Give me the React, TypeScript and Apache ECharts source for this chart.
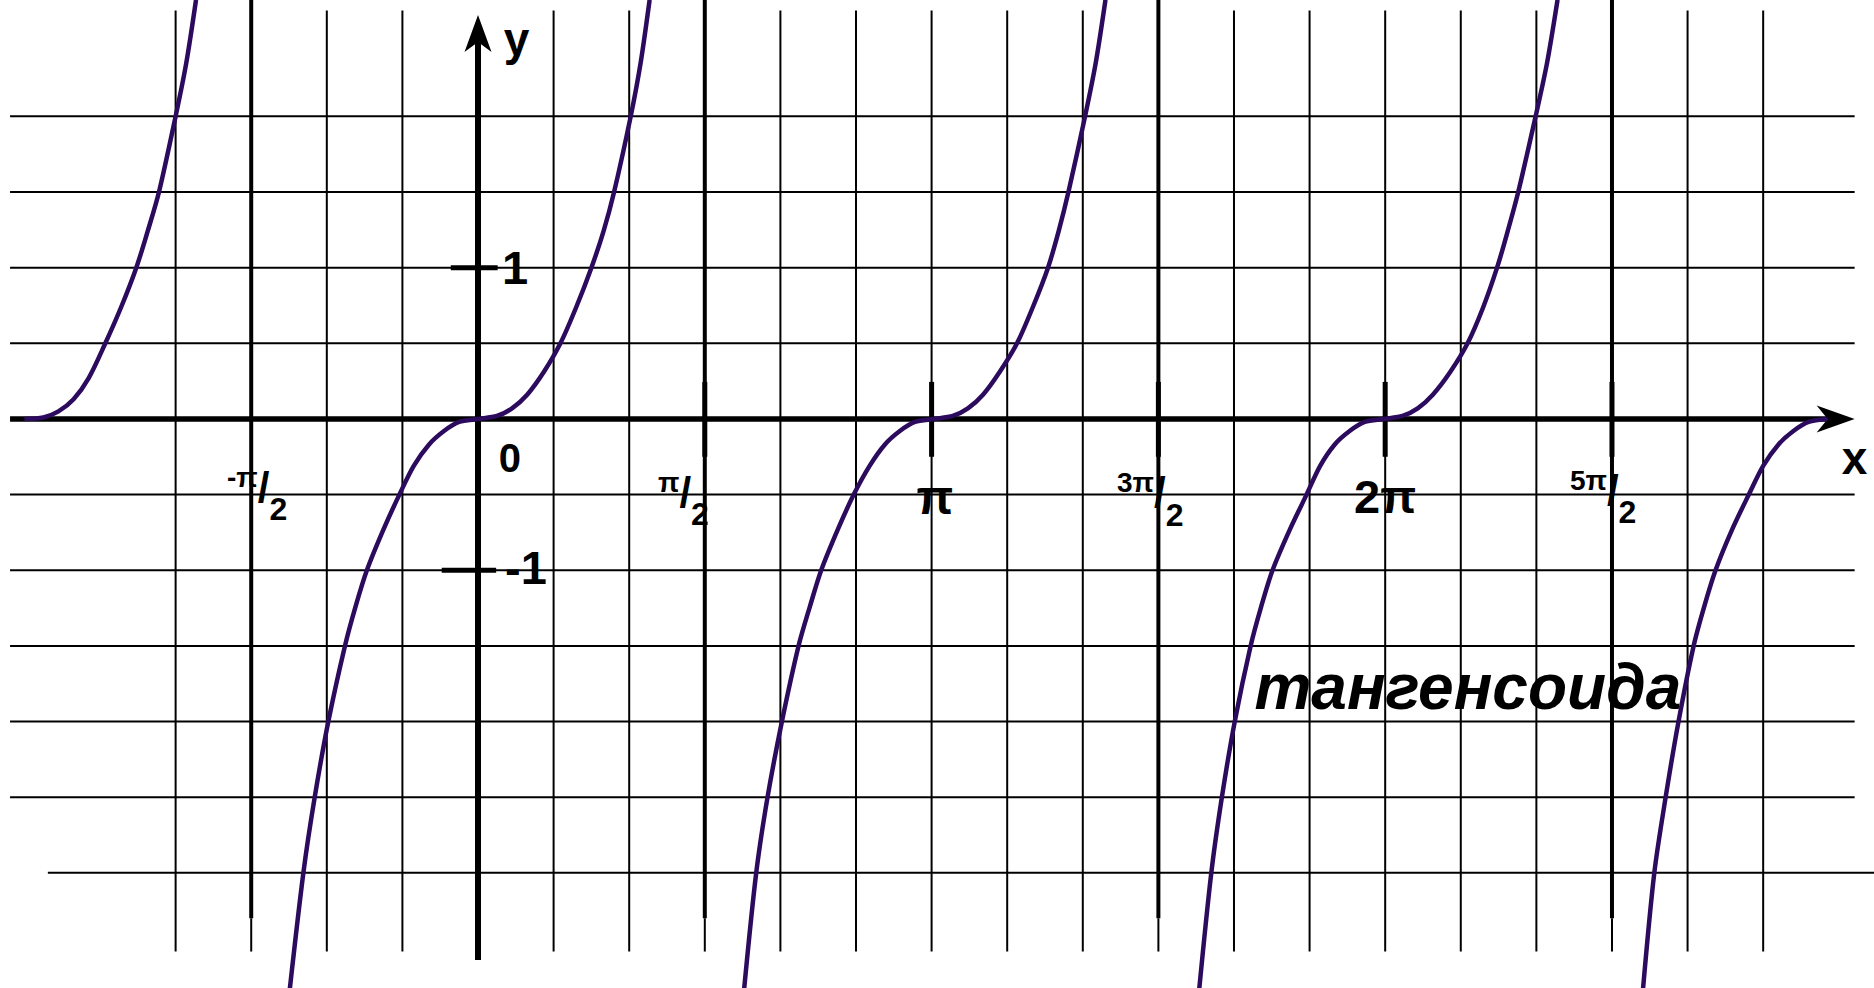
import { useEffect, useRef } from "react";
import * as echarts from "echarts";

const PI = Math.PI;
// one grid step along x is π/6; along y it is 0.5
const STEP = PI / 6;

// visible window: x in π/6 steps, y in units
const X_RANGE = [-6.323, 18.466];
const Y_RANGE = [-3.761, 2.769];

// grid lines (x in π/6 steps, y in units)
const verticalGridSteps = [-4, -2, -1, 1, 2, 4, 5, 6, 7, 8, 10, 11, 12, 13, 14, 16, 17];
const asymptoteSteps = [-3, 3, 9, 15];
const horizontalGridValues = [2, 1.5, 1, 0.5, -0.5, -1, -1.5, -2, -2.5, -3];
const xTickSteps = [3, 6, 9, 12, 15];
const yTickValues = [1, -1];

// curve branches, [x in π/6 steps, y]
const branchAroundMinusPi = [
  [-6.0, 0], [-5.75, 0.01], [-5.55, 0.05], [-5.35, 0.13], [-5.15, 0.27], [-4.93, 0.5], [-4.72, 0.74],
  [-4.52, 1], [-4.37, 1.24], [-4.22, 1.5], [-4.0, 2], [-3.86, 2.35], [-3.73, 2.77],
];
const branchAroundZero = [
  [-2.49, -3.77], [-2.31, -3], [-2.16, -2.5], [-1.98, -2], [-1.76, -1.5], [-1.62, -1.24], [-1.47, -1],
  [-1.25, -0.73], [-1.04, -0.5], [-0.85, -0.31], [-0.65, -0.17], [-0.45, -0.08], [-0.25, -0.02], [0, 0],
  [0.25, 0.02], [0.45, 0.07], [0.65, 0.16], [0.87, 0.31], [1.09, 0.5], [1.3, 0.74], [1.5, 1], [1.66, 1.24],
  [1.8, 1.5], [2.02, 2], [2.15, 2.35], [2.27, 2.77],
];
const branchAroundPi = [
  [3.52, -3.77], [3.68, -3], [3.83, -2.5], [4.02, -2], [4.24, -1.5], [4.39, -1.24], [4.54, -1],
  [4.76, -0.73], [4.97, -0.5], [5.18, -0.31], [5.38, -0.17], [5.58, -0.08], [5.78, -0.02], [6.03, 0],
  [6.28, 0.02], [6.48, 0.07], [6.68, 0.16], [6.9, 0.31], [7.13, 0.5], [7.34, 0.74], [7.54, 1], [7.68, 1.24],
  [7.81, 1.5], [8.03, 2], [8.17, 2.35], [8.3, 2.77],
];
const branchAroundTwoPi = [
  [9.54, -3.77], [9.7, -3], [9.84, -2.5], [10.01, -2], [10.22, -1.5], [10.36, -1.24], [10.51, -1],
  [10.74, -0.73], [10.96, -0.5], [11.14, -0.31], [11.33, -0.17], [11.53, -0.08], [11.73, -0.02], [11.98, 0],
  [12.23, 0.02], [12.43, 0.07], [12.63, 0.16], [12.86, 0.31], [13.09, 0.5], [13.29, 0.73], [13.48, 1],
  [13.62, 1.24], [13.76, 1.5], [13.99, 2], [14.14, 2.35], [14.28, 2.77],
];
const branchAroundThreePi = [
  [15.41, -3.77], [15.56, -3], [15.71, -2.5], [15.88, -2], [16.08, -1.5], [16.22, -1.24], [16.37, -1],
  [16.59, -0.73], [16.81, -0.5], [17.0, -0.31], [17.2, -0.17], [17.4, -0.08], [17.6, -0.02], [17.85, 0],
];
const branches = [
  branchAroundMinusPi,
  branchAroundZero,
  branchAroundPi,
  branchAroundTwoPi,
  branchAroundThreePi,
];

const CURVE_COLOR = "#2c0b5e";
const FONT = "'Liberation Sans', Arial, sans-serif";

function drawDecor(_params: any, api: any) {
  const c = (xs: number, y: number) => api.coord([xs * STEP, y]) as number[];
  const children: any[] = [];
  const seg = (a: number[], b: number[], w: number) =>
    children.push({
      type: "line",
      silent: true,
      shape: { x1: a[0], y1: a[1], x2: b[0], y2: b[1] },
      style: { stroke: "#000", lineWidth: w, lineCap: "butt" },
    });

  // thin grid
  verticalGridSteps.forEach((s) => seg(c(s, 2.7), c(s, -3.52), 2));
  asymptoteSteps.forEach((s) => {
    seg(c(s, Y_RANGE[1]), c(s, -3.3), 4);
    seg(c(s, -3.3), c(s, -3.52), 2);
  });
  horizontalGridValues.forEach((v) => {
    if (v === -3) seg(c(-5.69, v), c(X_RANGE[1], v), 2);
    else seg(c(-6.19, v), c(18.21, v), 2);
  });

  // axes with arrowheads
  const xTip = c(18.21, 0);
  const yTip = c(0, 2.67);
  seg(c(-6.19, 0), [xTip[0] - 27, xTip[1]], 5.5);
  seg(c(0, -3.576), [yTip[0], yTip[1] + 27], 6);
  children.push({
    type: "polygon",
    silent: true,
    shape: {
      points: [xTip, [xTip[0] - 38, xTip[1] - 13.5], [xTip[0] - 27, xTip[1]], [xTip[0] - 38, xTip[1] + 13.5]],
    },
    style: { fill: "#000" },
  });
  children.push({
    type: "polygon",
    silent: true,
    shape: {
      points: [yTip, [yTip[0] + 13.5, yTip[1] + 37], [yTip[0], yTip[1] + 27], [yTip[0] - 13.5, yTip[1] + 37]],
    },
    style: { fill: "#000" },
  });

  // ticks
  xTickSteps.forEach((s) => seg(c(s, 0.245), c(s, -0.25), 5));
  yTickValues.forEach((v) => seg(c(v > 0 ? -0.36 : -0.48, v), c(v > 0 ? 0.26 : 0.24, v), 5));

  const text = (p: number[], t: string, size: number, align: string, extra: any = {}) =>
    children.push({
      type: "text",
      silent: true,
      x: p[0],
      y: p[1],
      style: {
        text: t,
        fill: "#000",
        fontFamily: FONT,
        fontWeight: "bold",
        fontSize: size,
        align,
        verticalAlign: "middle",
        ...extra,
      },
    });

  text(c(0.34, 2.51), "y", 46, "left");
  text(c(18.21, -0.258), "x", 46, "center");
  text(c(0.423, -0.258), "0", 40, "center");
  text(c(0.49, 1.0), "1", 47, "center");
  text(c(0.357, -0.985), "-1", 47, "left");
  text(c(6.045, -0.52), "π", 48, "center");
  text(c(12.0, -0.51), "2π", 47, "center");

  const fracRich = {
    n: { fontSize: 28, fontWeight: "bold", fontFamily: FONT, height: 28, verticalAlign: "top" },
    s: { fontSize: 42, fontWeight: "bold", fontFamily: FONT, height: 48, verticalAlign: "top" },
    d: { fontSize: 32, fontWeight: "bold", fontFamily: FONT, height: 32, lineHeight: 62, verticalAlign: "bottom" },
  };
  const frac = (p: number[], num: string) =>
    children.push({
      type: "text",
      silent: true,
      x: p[0],
      y: p[1],
      style: {
        text: `{n|${num}}{s|/}{d|2}`,
        rich: fracRich,
        fill: "#000",
        align: "left",
        verticalAlign: "top",
      },
    });
  frac(c(-3.32, -0.294), "-π");
  frac(c(2.381, -0.327), "π");
  frac(c(8.452, -0.33), "3π");
  frac(c(14.444, -0.311), "5π");

  text(c(10.27, -1.77), "тангенсоида", 64, "left", { fontStyle: "italic" });

  return { type: "group", children };
}

export default function App() {
  const ref = useRef<HTMLDivElement>(null);

  useEffect(() => {
    if (!ref.current) return;
    const chart = echarts.init(ref.current, null, { renderer: "svg" });
    chart.setOption({
      animation: false,
      grid: { left: 0, right: 0, top: 0, bottom: 0, containLabel: false },
      xAxis: {
        type: "value",
        min: X_RANGE[0] * STEP,
        max: X_RANGE[1] * STEP,
        show: false,
        splitLine: { show: false },
      },
      yAxis: {
        type: "value",
        min: Y_RANGE[0],
        max: Y_RANGE[1],
        show: false,
        splitLine: { show: false },
      },
      series: [
        {
          type: "custom",
          name: "grid",
          z: 2,
          silent: true,
          data: [[0, 0]],
          renderItem: drawDecor,
        },
        ...branches.map((b, i) => ({
          type: "line",
          name: `tg-${i}`,
          z: 5,
          silent: true,
          showSymbol: false,
          symbol: "none",
          smooth: 0.3,
          clip: true,
          lineStyle: { color: CURVE_COLOR, width: 4.5 },
          data: b.map(([xs, y]) => [xs * STEP, y]),
        })),
      ],
    });
    return () => chart.dispose();
  }, []);

  return (
    <div
      ref={ref}
      style={{ position: "absolute", left: 0, top: 0, width: 1874, height: 988, background: "#fff" }}
    />
  );
}
